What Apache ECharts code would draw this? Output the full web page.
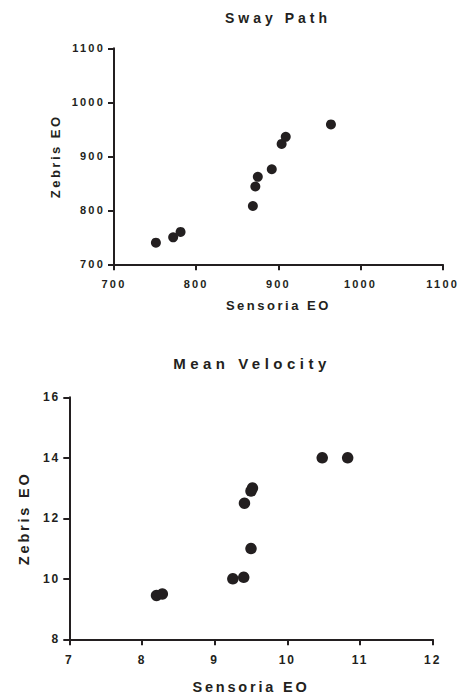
<!DOCTYPE html>
<html>
<head>
<meta charset="utf-8">
<title>Sway Path / Mean Velocity</title>
<script src="https://cdn.jsdelivr.net/npm/echarts@6.0.0/dist/echarts.min.js"></script>
<style>
  html, body { margin: 0; padding: 0; background: #ffffff; }
  #main { width: 459px; height: 698px; }
  /* spaced-out lettering, picked by font size */
  #main text[style*="11px"] { letter-spacing: 2.2px; }
  #main text[style*="12px"] { letter-spacing: 2px; }
  #main text[style*="13px"] { letter-spacing: 2.5px; }
  #main text[style*="14px"] { letter-spacing: 4px; }
  #main text[style*="14.5px"] { letter-spacing: 2.8px; }
  #main text[style*="15px"] { letter-spacing: 4.5px; }
</style>
</head>
<body>
<div id="main"></div>
<script>
// Sway Path (top plot)
var swayX = [751, 772, 781, 869, 872, 875, 892, 904, 909, 964];
var swayY = [740, 750, 760, 808, 844, 862, 876, 923, 936, 959];
var swayTicks = [700, 800, 900, 1000, 1100];

// Mean Velocity (bottom plot)
var velX = [8.20, 8.28, 9.25, 9.40, 9.50, 9.41, 9.50, 9.52, 10.48, 10.83];
var velY = [9.45, 9.50, 10.00, 10.05, 11.00, 12.50, 12.90, 13.00, 14.00, 14.00];
var velXTicks = [7, 8, 9, 10, 11, 12];
var velYTicks = [8, 10, 12, 14, 16];

var titles = ["Sway Path", "Mean Velocity"];
var xName = "Sensoria EO";
var yName = "Zebris EO";

var ink = "#231f20";
var font = "Arial, 'Liberation Sans', sans-serif";

function pairs(xs, ys) {
  return xs.map(function (x, i) { return [x, ys[i]]; });
}

function axis(ticks, gridIndex, name, nameGap, labelSize, nameSize, margin) {
  return {
    type: "value",
    gridIndex: gridIndex,
    min: ticks[0],
    max: ticks[ticks.length - 1],
    interval: ticks[1] - ticks[0],
    name: name,
    nameLocation: "middle",
    nameGap: nameGap,
    nameTextStyle: { color: ink, fontSize: nameSize, fontWeight: "bold", fontFamily: font },
    splitLine: { show: false },
    axisLine: { show: true, onZero: false, lineStyle: { color: ink, width: 2 } },
    axisTick: { show: true, inside: false, length: 6, lineStyle: { color: ink, width: 2 } },
    axisLabel: {
      color: ink, fontSize: labelSize, fontWeight: "bold", fontFamily: font, margin: margin,
      formatter: function (v) { return String(v); } // no thousands separator
    }
  };
}

var chart = echarts.init(document.getElementById("main"), null, { renderer: "svg" });

var option = {
  animation: false,
  backgroundColor: "#ffffff",
  title: [
    {
      text: titles[0], left: 278, top: 10.5, padding: 0, textAlign: "center",
      textStyle: { color: ink, fontSize: 14, fontWeight: "bold", fontFamily: font }
    },
    {
      text: titles[1], left: 252, top: 355.5, padding: 0, textAlign: "center",
      textStyle: { color: ink, fontSize: 15, fontWeight: "bold", fontFamily: font }
    }
  ],
  grid: [
    { left: 114, top: 48.3, width: 328.7, height: 216, containLabel: false, outerBoundsMode: "none" },
    { left: 69.3, top: 397.3, width: 363.4, height: 242, containLabel: false, outerBoundsMode: "none" }
  ],
  xAxis: [
    axis(swayTicks, 0, xName, 35, 11, 13, 14),
    axis(velXTicks, 1, xName, 40, 12, 14.5, 15)
  ],
  yAxis: [
    axis(swayTicks, 0, yName, 52, 11, 13, 9),
    axis(velYTicks, 1, yName, 38, 12, 14.5, 9)
  ],
  series: [
    {
      type: "scatter", xAxisIndex: 0, yAxisIndex: 0,
      data: pairs(swayX, swayY),
      symbol: "circle", symbolSize: 10,
      itemStyle: { color: ink, opacity: 1 }
    },
    {
      type: "scatter", xAxisIndex: 1, yAxisIndex: 1,
      data: pairs(velX, velY),
      symbol: "circle", symbolSize: 11.5,
      itemStyle: { color: ink, opacity: 1 }
    }
  ]
};

chart.setOption(option);
</script>
</body>
</html>
